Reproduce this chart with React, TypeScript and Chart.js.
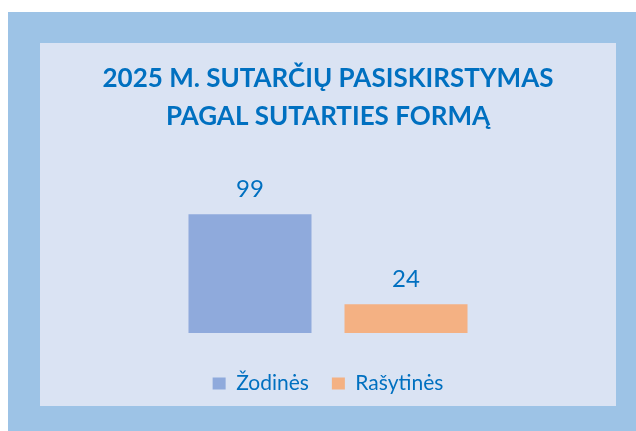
import React, { useEffect, useRef } from "react";
import { Chart, registerables } from "chart.js";

Chart.register(...registerables);

const categories = [""];
const seriesNames = ["Žodinės", "Rašytinės"];
const seriesValues = [[99], [24]];
const seriesColors = ["#8FAADC", "#F4B183"];
const titleLines = ["2025 M. SUTARČIŲ PASISKIRSTYMAS", "PAGAL SUTARTIES FORMĄ"];
const yMax = 125;

const TEXT_BLUE = "#0070C0";
const FONT = "Lato, 'Open Sans', sans-serif";

const labelPlugin = {
  id: "barValueLabels",
  afterDatasetsDraw(chart: any) {
    const ctx = chart.ctx;
    ctx.save();
    ctx.font = `24px ${FONT}`;
    ctx.fillStyle = TEXT_BLUE;
    ctx.textAlign = "center";
    ctx.textBaseline = "alphabetic";
    chart.data.datasets.forEach((ds: any, i: number) => {
      const meta = chart.getDatasetMeta(i);
      meta.data.forEach((bar: any, j: number) => {
        ctx.fillText(String(ds.data[j]), bar.x, bar.y - 17);
      });
    });
    ctx.restore();
  },
};

export default function App() {
  const ref = useRef<HTMLCanvasElement | null>(null);
  useEffect(() => {
    if (!ref.current) return;
    const chart = new Chart(ref.current, {
      type: "bar",
      data: {
        labels: categories,
        datasets: seriesNames.map((name, i) => ({
          label: name,
          data: seriesValues[i],
          backgroundColor: seriesColors[i],
          borderWidth: 0,
          categoryPercentage: 0.5417,
          barPercentage: 0.7885,
        })),
      },
      options: {
        animation: false,
        responsive: false,
        maintainAspectRatio: false,
        layout: { padding: { left: 0, right: 0, top: 0, bottom: 2 } },
        scales: {
          x: {
            display: true,
            grid: { display: false, drawTicks: false },
            border: { display: false },
            ticks: { display: true, color: "rgba(0,0,0,0)", font: { size: 10 }, padding: 2.5 },
          },
          y: { display: false, min: 0, max: yMax },
        },
        plugins: {
          tooltip: { enabled: false },
          title: {
            display: true,
            text: titleLines,
            color: TEXT_BLUE,
            font: { family: FONT, size: 26, weight: "bold", lineHeight: 38 / 26 },
            padding: { top: 17, bottom: 47 },
          },
          legend: {
            display: true,
            position: "bottom",
            labels: {
              color: TEXT_BLUE,
              font: { family: FONT, size: 21 },
              boxWidth: 13,
              boxHeight: 12,
              padding: 23,
            },
          },
        },
      },
      plugins: [labelPlugin],
    });
    return () => chart.destroy();
  }, []);

  return (
    <div
      style={{
        position: "absolute",
        left: 8,
        top: 12,
        width: 628,
        height: 419,
        background: "#9DC3E6",
      }}
    >
      <div
        style={{
          position: "absolute",
          left: 32,
          top: 31,
          width: 576,
          height: 363,
          background: "#DAE3F3",
        }}
      >
        <canvas ref={ref} width={576} height={363} style={{ display: "block" }} />
      </div>
    </div>
  );
}
